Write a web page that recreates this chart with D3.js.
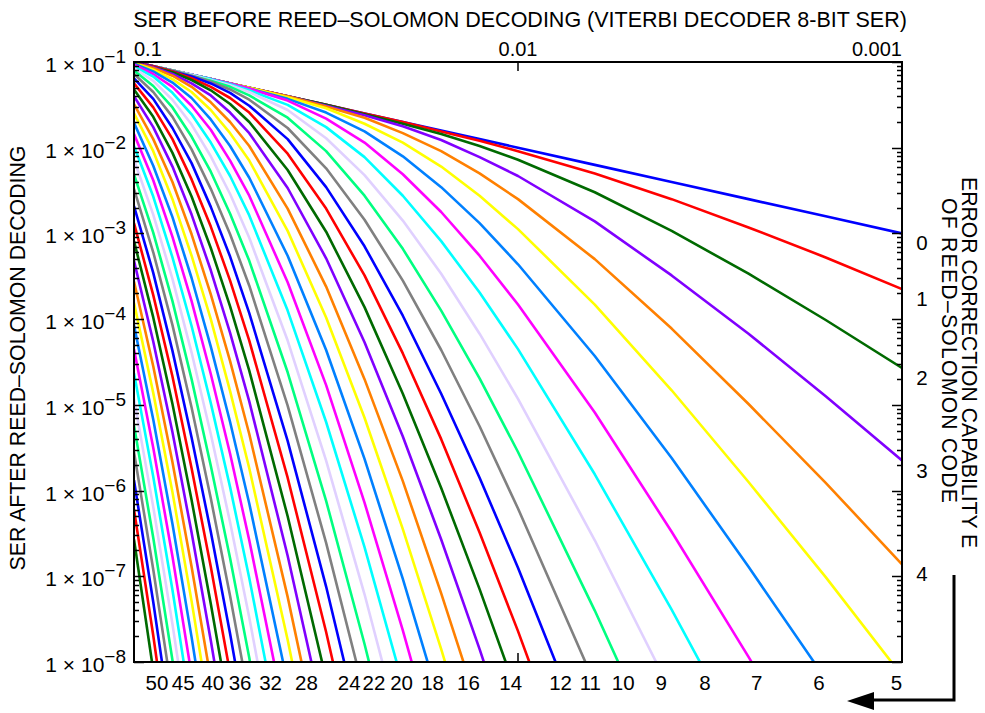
<!DOCTYPE html>
<html>
<head>
<meta charset="utf-8">
<script src="https://cdn.jsdelivr.net/npm/d3@7"></script>
<style>
  body { margin: 0; background: #fff; }
  svg { display: block; font-family: "Liberation Sans", Arial, Helvetica, sans-serif; }
</style>
</head>
<body>
<svg id="chart" width="985" height="713"></svg>
<script>
// SER coming out of the Viterbi decoder (x axis), one entry per sample column
var serIn = [0.1, 0.0891, 0.0794, 0.0708, 0.0631, 0.0562, 0.0501, 0.0398, 0.0316, 0.0251,
             0.01995, 0.01585, 0.01259, 0.01, 0.00631, 0.00398, 0.00251, 0.00158, 0.001];

// log10 of the SER after Reed-Solomon decoding, one row per correction capability E = 0..50
var logSerOut = [
  [-1.00,-1.05,-1.10,-1.15,-1.20,-1.25,-1.30,-1.40,-1.50,-1.60,-1.70,-1.80,-1.90,-2.00,-2.20,-2.40,-2.60,-2.80,-3.00],
  [-1.00,-1.05,-1.10,-1.15,-1.20,-1.25,-1.30,-1.40,-1.50,-1.60,-1.70,-1.81,-1.92,-2.04,-2.30,-2.60,-2.93,-3.28,-3.65],
  [-1.00,-1.05,-1.10,-1.15,-1.20,-1.25,-1.30,-1.40,-1.50,-1.61,-1.72,-1.84,-1.98,-2.14,-2.52,-2.97,-3.47,-4.01,-4.57],
  [-1.00,-1.05,-1.10,-1.15,-1.20,-1.25,-1.30,-1.40,-1.51,-1.62,-1.75,-1.91,-2.11,-2.33,-2.86,-3.49,-4.17,-4.90,-5.65],
  [-1.00,-1.05,-1.10,-1.15,-1.20,-1.25,-1.30,-1.40,-1.52,-1.65,-1.83,-2.04,-2.30,-2.60,-3.30,-4.11,-4.99,-5.91,-6.86],
  [-1.00,-1.05,-1.10,-1.15,-1.20,-1.25,-1.30,-1.41,-1.54,-1.72,-1.94,-2.22,-2.56,-2.95,-3.83,-4.83,-5.90,-7.01,-8.16],
  [-1.00,-1.05,-1.10,-1.15,-1.20,-1.25,-1.31,-1.43,-1.59,-1.81,-2.10,-2.46,-2.88,-3.36,-4.43,-5.62,-6.89,-8.20],
  [-1.00,-1.05,-1.10,-1.15,-1.20,-1.25,-1.31,-1.45,-1.66,-1.94,-2.31,-2.75,-3.26,-3.83,-5.09,-6.48,-7.94,-9.45],
  [-1.00,-1.05,-1.10,-1.15,-1.20,-1.26,-1.33,-1.50,-1.76,-2.11,-2.56,-3.09,-3.69,-4.35,-5.81,-7.39,-9.05],
  [-1.00,-1.05,-1.10,-1.15,-1.21,-1.27,-1.35,-1.56,-1.89,-2.32,-2.85,-3.47,-4.17,-4.93,-6.58,-8.36],
  [-1.00,-1.05,-1.10,-1.16,-1.22,-1.29,-1.39,-1.65,-2.04,-2.56,-3.18,-3.90,-4.69,-5.55,-7.40,-9.37],
  [-1.00,-1.05,-1.10,-1.16,-1.23,-1.32,-1.44,-1.77,-2.24,-2.84,-3.55,-4.36,-5.25,-6.21,-8.25],
  [-1.00,-1.05,-1.11,-1.17,-1.25,-1.36,-1.51,-1.90,-2.46,-3.15,-3.96,-4.87,-5.85,-6.90,-9.15],
  [-1.00,-1.05,-1.11,-1.19,-1.29,-1.42,-1.59,-2.07,-2.71,-3.49,-4.40,-5.40,-6.49,-7.64,-10.08],
  [-1.00,-1.06,-1.12,-1.21,-1.33,-1.49,-1.70,-2.26,-2.98,-3.86,-4.87,-5.97,-7.15,-8.40],
  [-1.00,-1.06,-1.14,-1.25,-1.39,-1.59,-1.83,-2.47,-3.29,-4.27,-5.37,-6.57,-7.85,-9.20],
  [-1.01,-1.07,-1.16,-1.29,-1.47,-1.70,-1.98,-2.71,-3.62,-4.70,-5.89,-7.20,-8.58],
  [-1.01,-1.09,-1.20,-1.35,-1.56,-1.83,-2.15,-2.97,-3.98,-5.15,-6.45,-7.85,-9.33],
  [-1.02,-1.11,-1.24,-1.42,-1.67,-1.98,-2.35,-3.26,-4.36,-5.63,-7.03,-8.53],
  [-1.03,-1.14,-1.29,-1.51,-1.79,-2.15,-2.56,-3.57,-4.77,-6.14,-7.63,-9.23],
  [-1.05,-1.17,-1.36,-1.61,-1.94,-2.33,-2.79,-3.90,-5.20,-6.66,-8.26],
  [-1.07,-1.22,-1.44,-1.73,-2.10,-2.54,-3.05,-4.25,-5.65,-7.21,-8.91],
  [-1.10,-1.28,-1.53,-1.87,-2.28,-2.77,-3.32,-4.62,-6.12,-7.79,-9.58],
  [-1.14,-1.35,-1.64,-2.02,-2.48,-3.01,-3.61,-5.01,-6.61,-8.38],
  [-1.19,-1.43,-1.77,-2.18,-2.69,-3.27,-3.93,-5.42,-7.12,-8.99],
  [-1.25,-1.53,-1.90,-2.37,-2.92,-3.55,-4.25,-5.85,-7.65,-9.62],
  [-1.32,-1.64,-2.06,-2.57,-3.17,-3.85,-4.60,-6.30,-8.20],
  [-1.40,-1.76,-2.22,-2.78,-3.43,-4.16,-4.96,-6.76,-8.77],
  [-1.49,-1.90,-2.40,-3.01,-3.71,-4.49,-5.34,-7.24,-9.35],
  [-1.60,-2.04,-2.60,-3.26,-4.00,-4.84,-5.74,-7.74,-9.95],
  [-1.71,-2.21,-2.81,-3.52,-4.32,-5.20,-6.15,-8.25],
  [-1.84,-2.38,-3.04,-3.79,-4.64,-5.57,-6.58,-8.78],
  [-1.98,-2.57,-3.28,-4.08,-4.98,-5.96,-7.02,-9.33],
  [-2.14,-2.78,-3.53,-4.39,-5.34,-6.37,-7.48,-9.89],
  [-2.31,-2.99,-3.79,-4.70,-5.71,-6.79,-7.95,-10.48],
  [-2.48,-3.22,-4.07,-5.03,-6.09,-7.23,-8.44],
  [-2.68,-3.46,-4.37,-5.38,-6.48,-7.67,-8.94],
  [-2.88,-3.72,-4.67,-5.74,-6.89,-8.13],
  [-3.09,-3.98,-4.99,-6.11,-7.32,-8.61],
  [-3.32,-4.26,-5.32,-6.49,-7.75,-9.09],
  [-3.56,-4.55,-5.67,-6.89,-8.20],
  [-3.81,-4.86,-6.02,-7.29,-8.66],
  [-4.07,-5.17,-6.39,-7.71,-9.13],
  [-4.35,-5.50,-6.77,-8.15],
  [-4.63,-5.84,-7.16,-8.59],
  [-4.93,-6.19,-7.56,-9.04],
  [-5.24,-6.55,-7.98,-9.51],
  [-5.55,-6.92,-8.40],
  [-5.88,-7.30,-8.84],
  [-6.22,-7.69,-9.28],
  [-6.57,-8.10]
];

var bottomLabels = [50, 45, 40, 36, 32, 28, 24, 22, 20, 18, 16, 14, 12, 11, 10, 9, 8, 7, 6, 5];
var rightLabels = [0, 1, 2, 3, 4];
var xTickLabels = ["0.1", "0.01", "0.001"];
var xTickValues = [0.1, 0.01, 0.001];
var lineColors = ["#0000ff", "#ff0000", "#006a00", "#8000ff", "#ff8000", "#ffff00",
                  "#0080ff", "#ff00ff", "#00ffff", "#e0d0ff", "#00ff80", "#808080"];

var svg = d3.select("#chart"),
    plotL = 134, plotR = 902, plotT = 62, plotB = 662;

var x = d3.scaleLog().domain([0.1, 0.001]).range([plotL, plotR]);
var y = d3.scaleLog().domain([1e-1, 1e-8]).range([plotT, plotB]);

svg.append("defs").append("clipPath").attr("id", "plot")
  .append("rect")
    .attr("x", plotL).attr("y", plotT)
    .attr("width", plotR - plotL).attr("height", plotB - plotT);

var line = d3.line()
    .x(function(d) { return x(d[0]); })
    .y(function(d) { return y(d[1]); });

var curves = logSerOut.map(function(row) {
  return row.map(function(v, i) { return [serIn[i], Math.pow(10, v)]; });
});

svg.append("g")
    .attr("clip-path", "url(#plot)")
  .selectAll("path")
    .data(curves)
  .enter().append("path")
    .attr("d", line)
    .attr("fill", "none")
    .attr("stroke-width", 2.6)
    .attr("stroke-linejoin", "round")
    .attr("stroke", function(d, i) { return lineColors[i % lineColors.length]; });

// frame
svg.append("rect")
    .attr("x", plotL).attr("y", plotT)
    .attr("width", plotR - plotL).attr("height", plotB - plotT)
    .attr("fill", "none").attr("stroke", "#000").attr("stroke-width", 2);

// y ticks on both sides, pointing inwards
var yTicks = y.ticks();
function isDecade(v) { return Math.abs(Math.log10(v) - Math.round(Math.log10(v))) < 1e-6; }
var ticks = svg.append("g").attr("stroke", "#000").attr("stroke-width", 1.5);
yTicks.forEach(function(v) {
  var len = isDecade(v) ? 10 : 5, yy = Math.round(y(v)) + 0.5;
  ticks.append("line").attr("x1", plotL).attr("x2", plotL + len).attr("y1", yy).attr("y2", yy);
  ticks.append("line").attr("x1", plotR).attr("x2", plotR - len).attr("y1", yy).attr("y2", yy);
});
// x tick at 0.01 top and bottom
ticks.append("line").attr("x1", x(0.01)).attr("x2", x(0.01)).attr("y1", plotT).attr("y2", plotT + 9);
ticks.append("line").attr("x1", x(0.01)).attr("x2", x(0.01)).attr("y1", plotB).attr("y2", plotB - 9);

// y tick labels: 1 x 10^-k
yTicks.filter(isDecade).forEach(function(v) {
  var k = Math.round(Math.log10(v));
  var t = svg.append("text")
      .attr("x", 126).attr("y", y(v) + 10)
      .attr("text-anchor", "end")
      .attr("font-size", 21);
  t.append("tspan").text("1 \u00d7 10");
  t.append("tspan").attr("dy", -9).attr("font-size", 19).text("\u2212" + (-k));
});

// top x tick labels
xTickValues.forEach(function(v, i) {
  svg.append("text")
      .attr("x", i === 0 ? plotL : (i === 2 ? plotR : x(v)))
      .attr("y", 56)
      .attr("text-anchor", i === 0 ? "start" : (i === 2 ? "end" : "middle"))
      .attr("font-size", 20)
      .text(xTickLabels[i]);
});

// where a curve reaches 1e-8
function crossing(row) {
  for (var i = 1; i < row.length; i++) {
    if (row[i] <= -8) {
      var f = (row[i - 1] + 8) / (row[i - 1] - row[i]);
      var a = Math.log10(serIn[i - 1]), b = Math.log10(serIn[i]);
      return Math.pow(10, a + f * (b - a));
    }
  }
  return serIn[row.length - 1];
}

svg.append("g").selectAll("text")
    .data(bottomLabels)
  .enter().append("text")
    .attr("x", function(e) { return x(crossing(logSerOut[e])) + 5; })
    .attr("y", 690)
    .attr("text-anchor", "middle")
    .attr("font-size", 20.5)
    .text(function(e) { return e; });

svg.append("g").selectAll("text")
    .data(rightLabels)
  .enter().append("text")
    .attr("x", 922)
    .attr("y", function(e) { var r = logSerOut[e]; return y(Math.pow(10, r[r.length - 1])) + 17; })
    .attr("text-anchor", "middle")
    .attr("font-size", 20.5)
    .text(function(e) { return e; });

// axis titles
svg.append("text")
    .attr("x", 520).attr("y", 27)
    .attr("text-anchor", "middle")
    .attr("font-size", 21.5)
    .text("SER BEFORE REED\u2013SOLOMON DECODING (VITERBI DECODER 8-BIT SER)");

svg.append("text")
    .attr("transform", "translate(25,358) rotate(-90)")
    .attr("text-anchor", "middle")
    .attr("font-size", 21.3)
    .text("SER AFTER REED\u2013SOLOMON DECODING");

svg.append("text")
    .attr("transform", "translate(962,177) rotate(90)")
    .attr("font-size", 21.2)
    .text("ERROR CORRECTION CAPABILITY E");
svg.append("text")
    .attr("transform", "translate(942,198) rotate(90)")
    .attr("font-size", 21.2)
    .attr("textLength", 305)
    .attr("lengthAdjust", "spacing")
    .text("OF REED\u2013SOLOMON CODE");

// arrow pointing back to the bottom labels
svg.append("path")
    .attr("d", "M954,575V700H872")
    .attr("fill", "none").attr("stroke", "#000").attr("stroke-width", 3);
svg.append("path")
    .attr("d", "M847,701L874,692L874,710Z")
    .attr("fill", "#000");
</script>
</body>
</html>
